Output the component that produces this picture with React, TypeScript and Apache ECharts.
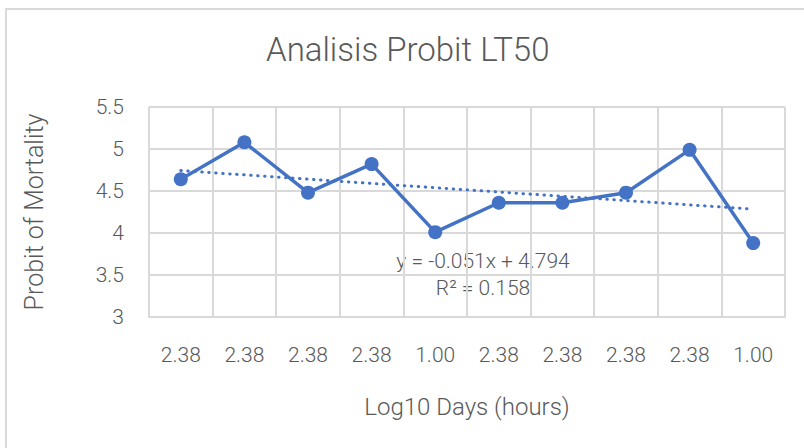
import React, { useEffect, useRef } from "react";
import * as echarts from "echarts";

const categories = ["2.38", "2.38", "2.38", "2.38", "1.00", "2.38", "2.38", "2.38", "2.38", "1.00"];
const probitValues = [4.64, 5.08, 4.48, 4.82, 4.01, 4.36, 4.36, 4.48, 4.99, 3.88];
const trendSlope = -0.051;
const trendIntercept = 4.794;
const trendValues = categories.map((_, i) => +(trendIntercept + trendSlope * (i + 1)).toFixed(3));
const yTicks = { min: 3, max: 5.5, interval: 0.5 };

const FONT = "Roboto, 'Liberation Sans', sans-serif";
const TXT = "#595959";
const GRID = "#d9d9d9";
const BLUE = "#4472C4";

export default function App() {
  const ref = useRef<HTMLDivElement>(null);
  useEffect(() => {
    document.body.style.margin = "0";
    const chart = echarts.init(ref.current!, undefined, { renderer: "svg" });
    chart.setOption({
      animation: false,
      backgroundColor: "#ffffff",
      title: {
        text: "Analisis Probit LT50",
        left: 266,
        top: 33,
        padding: 0,
        textStyle: { fontFamily: FONT, fontSize: 33, fontWeight: 300, color: TXT },
      },
      grid: { left: 149, right: 19, top: 107, bottom: 131 },
      xAxis: {
        type: "category",
        data: categories,
        boundaryGap: true,
        axisLine: { show: true, lineStyle: { color: GRID, width: 2 } },
        axisTick: { show: false },
        axisLabel: { color: TXT, fontFamily: FONT, fontSize: 21, fontWeight: 300, margin: 27 },
        splitLine: { show: true, lineStyle: { color: GRID, width: 2 } },
        name: "Log10 Days (hours)",
        nameLocation: "middle",
        nameGap: 78,
        nameTextStyle: { color: TXT, fontFamily: FONT, fontSize: 24, fontWeight: 300 },
      },
      yAxis: {
        type: "value",
        min: yTicks.min,
        max: yTicks.max,
        interval: yTicks.interval,
        axisLine: { show: false },
        axisTick: { show: false },
        axisLabel: { color: TXT, fontFamily: FONT, fontSize: 21, fontWeight: 300, margin: 25 },
        splitLine: { show: true, lineStyle: { color: GRID, width: 2 } },
        name: "Probit of Mortality",
        nameLocation: "middle",
        nameGap: 102,
        nameTextStyle: { color: TXT, fontFamily: FONT, fontSize: 25, fontWeight: 300 },
      },
      series: [
        {
          type: "line",
          data: probitValues,
          symbol: "circle",
          symbolSize: 14,
          itemStyle: { color: BLUE },
          lineStyle: { color: BLUE, width: 3.5 },
          z: 3,
        },
        {
          type: "line",
          data: trendValues,
          symbol: "none",
          lineStyle: { color: BLUE, width: 3, type: [0.5, 6.5], cap: "round" },
          z: 2,
        },
      ],
      graphic: [
        {
          type: "rect",
          shape: { x: 6, y: 9, width: 830, height: 470 },
          style: { fill: "none", stroke: GRID, lineWidth: 2 },
          z: -1,
        },
        {
          type: "text",
          x: 483,
          y: 261,
          style: {
            text: "y = -0.051x + 4.794",
            fill: TXT,
            font: `300 21px ${FONT}`,
            align: "center",
            verticalAlign: "middle",
          },
        },
        {
          type: "text",
          x: 483,
          y: 288,
          style: {
            text: "R² = 0.158",
            fill: TXT,
            font: `300 21px ${FONT}`,
            align: "center",
            verticalAlign: "middle",
          },
        },
      ],
    });
    return () => chart.dispose();
  }, []);
  return <div ref={ref} style={{ width: 804, height: 448 }} />;
}
